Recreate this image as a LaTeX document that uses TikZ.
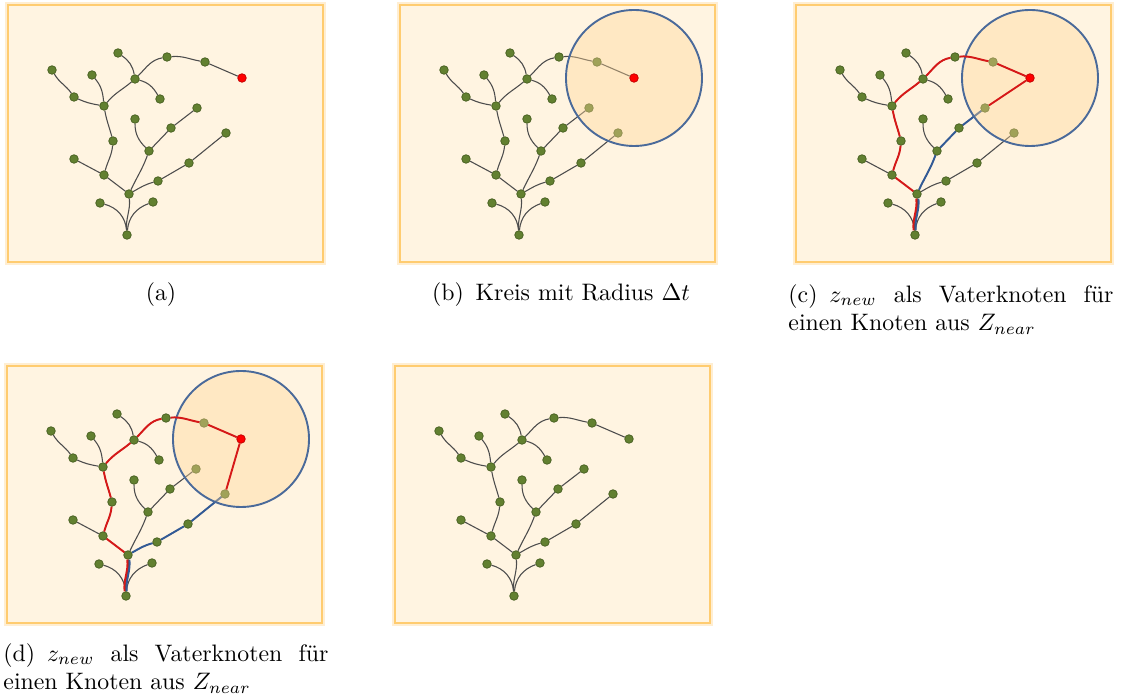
\documentclass[tikz,border=0pt]{standalone}
\usepackage{amsmath}
\usepackage{amssymb}

\definecolor{paper}{RGB}{255,244,225}
\definecolor{framecol}{RGB}{255,204,112}
\definecolor{halo}{RGB}{255,238,210}
\definecolor{disc}{RGB}{255,214,150}
\definecolor{ringblue}{RGB}{74,106,154}
\definecolor{leaf}{RGB}{98,128,48}
\definecolor{leafdark}{RGB}{70,94,32}
\definecolor{pathred}{RGB}{214,24,24}
\definecolor{pathblue}{RGB}{50,90,150}

\pgfdeclarelayer{frame}
\pgfdeclarelayer{edges}
\pgfdeclarelayer{disc}
\pgfdeclarelayer{front}
\pgfsetlayers{frame,edges,main,disc,front}

\tikzset{
  dot/.style={circle,fill=leaf,draw=leafdark,line width=0.3pt,inner sep=0pt,minimum size=3.6pt},
  newdot/.style={dot,fill=red,draw=red!75!black},
  twig/.style={draw=black!70,line width=0.45pt},
  redpath/.style={draw=pathred,line width=0.8pt},
  bluepath/.style={draw=pathblue,line width=0.8pt},
  reach/.style={fill=disc,fill opacity=0.4,draw=ringblue,draw opacity=1,line width=0.8pt},
  captext/.style={inner sep=0pt,font=\normalsize}
}

% background card of one panel
\newcommand{\rrtpanel}{%
  \begin{pgfonlayer}{frame}
    \fill[halo] (-3,-3) rectangle (318,260);
    \draw[fill=paper,draw=framecol,line width=0.6pt] (0,0) rectangle (315,257);
  \end{pgfonlayer}}

% the tree, #1 = style of the newest node
\newcommand{\rrttree}[1]{%
  \node[dot] (R) at (119,27) {};
  \node[dot] (B) at (121,68) {};
  \node[dot] (LL) at (92,59) {};
  \node[dot] (RL) at (145,60) {};
  \node[dot] (N1) at (96,87) {};
  \node[dot] (N1L) at (66,103) {};
  \node[dot] (N2) at (105,121) {};
  \node[dot] (N3) at (96,156) {};
  \node[dot] (N3L) at (84,187) {};
  \node[dot] (N4) at (66,165) {};
  \node[dot] (N4L) at (44,192) {};
  \node[dot] (N5) at (127,183) {};
  \node[dot] (N5U) at (110,209) {};
  \node[dot] (N5D) at (152,163) {};
  \node[dot] (N6) at (159,205) {};
  \node[dot] (N7) at (197,200) {};
  \node[dot] (M1) at (141,111) {};
  \node[dot] (M1L) at (127,143) {};
  \node[dot] (M2) at (163,134) {};
  \node[dot] (M3) at (189,154) {};
  \node[dot] (K1) at (150,81) {};
  \node[dot] (K2) at (181,99) {};
  \node[dot] (K3) at (218,129) {};
  \begin{pgfonlayer}{front}
    \node[#1] (Z) at (234,184) {};
  \end{pgfonlayer}
  \begin{pgfonlayer}{edges}
    \draw[twig] (R) to[out=95,in=-85] (B);
    \draw[twig] (R) to[out=95,in=-15] (LL);
    \draw[twig] (R) to[out=85,in=200] (RL);
    \draw[twig] (B) -- (N1);
    \draw[twig] (N1) -- (N1L);
    \draw[twig] (N1) to[out=75,in=-95] (N2);
    \draw[twig] (N2) to[out=105,in=-80] (N3);
    \draw[twig] (N3) to[out=95,in=-50] (N3L);
    \draw[twig] (N3) to[out=170,in=-25] (N4);
    \draw[twig] (N4) to[out=125,in=-60] (N4L);
    \draw[twig] (N3) to[out=50,in=-140] (N5);
    \draw[twig] (N5) to[out=100,in=-35] (N5U);
    \draw[twig] (N5) to[out=-15,in=120] (N5D);
    \draw[twig] (N5) to[out=45,in=190] (N6);
    \draw[twig] (N6) to[out=5,in=170] (N7);
    \draw[twig] (N7) -- (Z);
    \draw[twig] (B) to[out=65,in=-110] (M1);
    \draw[twig] (M1) to[out=135,in=-90] (M1L);
    \draw[twig] (M1) -- (M2);
    \draw[twig] (M2) -- (M3);
    \draw[twig] (B) to[out=30,in=195] (K1);
    \draw[twig] (K1) -- (K2);
    \draw[twig] (K2) -- (K3);
  \end{pgfonlayer}}

% circle of radius Delta t round the newest node
\newcommand{\rrtreach}{%
  \begin{pgfonlayer}{disc}
    \draw[reach] (Z.center) circle (68);
  \end{pgfonlayer}}

% red path from the root to the newest node
\newcommand{\rrtredpath}{%
  \begin{pgfonlayer}{front}
    \draw[redpath] (Z) -- (N7) to[out=170,in=5] (N6) to[out=190,in=45] (N5)
      to[out=-140,in=50] (N3) to[out=-80,in=105] (N2) to[out=-95,in=75] (N1) -- (B);
    \draw[redpath,transform canvas={xshift=-0.45pt}] (B) to[out=-85,in=95] (R);
  \end{pgfonlayer}}

\begin{document}
\begin{tikzpicture}[x=0.42pt,y=0.42pt]
\useasboundingbox (0,0) rectangle (1121,700);

% (a)
\begin{scope}[shift={(8,438)}]
  \rrtpanel
  \rrttree{newdot}
\end{scope}

% (b)
\begin{scope}[shift={(400,438)}]
  \rrtpanel
  \rrttree{newdot}
  \rrtreach
\end{scope}

% (c)
\begin{scope}[shift={(796,438)}]
  \rrtpanel
  \rrttree{newdot}
  \rrtreach
  \rrtredpath
  \begin{pgfonlayer}{front}
    \draw[redpath] (Z) -- (M3);
  \end{pgfonlayer}
  \begin{pgfonlayer}{edges}
    \draw[bluepath] (M3) -- (M2) -- (M1) to[out=-110,in=65] (B);
    \draw[bluepath,transform canvas={xshift=0.45pt}] (B) to[out=-85,in=95] (R);
  \end{pgfonlayer}
\end{scope}

% (d)
\begin{scope}[shift={(7,77)}]
  \rrtpanel
  \rrttree{newdot}
  \rrtreach
  \rrtredpath
  \begin{pgfonlayer}{front}
    \draw[redpath] (Z) -- (K3);
  \end{pgfonlayer}
  \begin{pgfonlayer}{edges}
    \draw[bluepath] (K3) -- (K2) -- (K1) to[out=195,in=30] (B);
    \draw[bluepath,transform canvas={xshift=0.45pt}] (B) to[out=-85,in=95] (R);
  \end{pgfonlayer}
\end{scope}

% (e)
\begin{scope}[shift={(395,77)}]
  \rrtpanel
  \rrttree{dot}
\end{scope}

\node[captext,anchor=base] (capa) at (161,399) {(a)};
\node[captext,anchor=base] (capb) at (561,399) {(b)\enskip Kreis mit Radius $\Delta t$};
\node[captext,anchor=north west,text width=136.5pt,align=justify] (capc) at (788,416)
  {(c)\enskip $z_{new}$ als Vaterknoten für einen Knoten aus $Z_{near}$};
\node[captext,anchor=north west,text width=136.5pt,align=justify] (capd) at (3,57)
  {(d)\enskip $z_{new}$ als Vaterknoten für einen Knoten aus $Z_{near}$};
\end{tikzpicture}
\end{document}
